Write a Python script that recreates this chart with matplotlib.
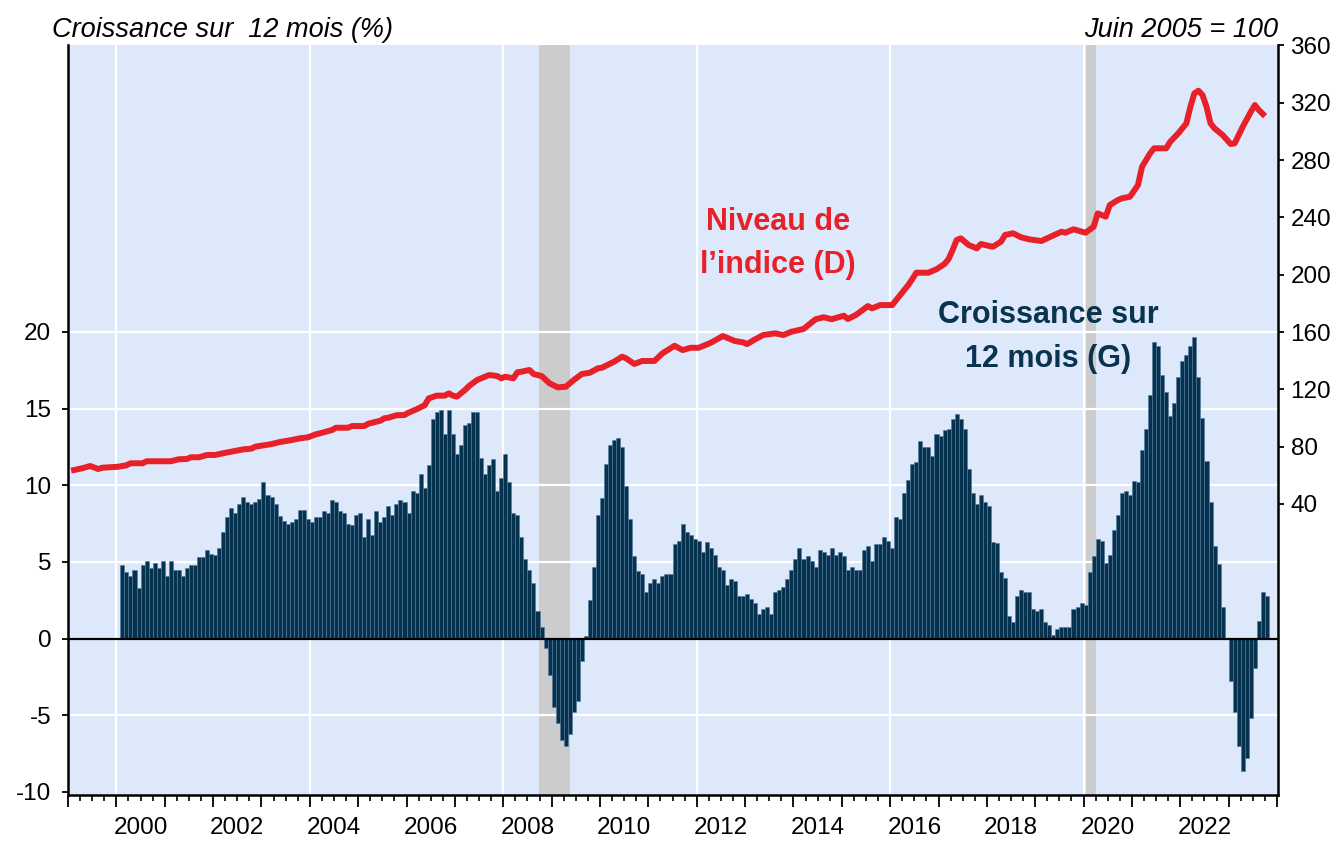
import matplotlib
matplotlib.use('Agg')
import matplotlib.pyplot as plt
import pandas as pd
from matplotlib.ticker import FixedLocator, FuncFormatter

plt.rcParams['font.family'] = ['Liberation Sans', 'DejaVu Sans']
plt.rcParams['axes.unicode_minus'] = False

# croissance sur 12 mois (%), mensuel, a partir de fevrier 2000
growth_start = '2000-02'
growth = [
    4.78, 4.35, 4.07, 4.48, 3.3, 4.78, 5.04, 4.63, 4.91, 4.63, 5.04, 4.07,
    5.04, 4.5, 4.5, 4.07, 4.61, 4.78, 4.78, 5.35, 5.35, 5.76, 5.52, 5.48,
    5.91, 6.93, 7.93, 8.5, 8.2, 8.78, 9.22, 8.93, 8.78, 8.93, 9.09, 10.22,
    9.37, 9.22, 8.78, 8.02, 7.65, 7.5, 7.63, 7.78, 8.37, 8.37, 7.78, 7.63,
    7.93, 7.91, 8.35, 8.22, 9.07, 8.91, 8.35, 8.22, 7.48, 7.43, 8.07, 8.2,
    6.63, 7.78, 6.78, 8.35, 7.63, 7.91, 8.63, 8.07, 8.78, 9.07, 8.91, 8.22,
    9.63, 9.5, 10.76, 9.83, 11.35, 14.35, 14.8, 14.93, 13.35, 14.93, 13.35, 12.07,
    12.63, 13.91, 14.07, 14.8, 14.8, 11.8, 10.76, 11.35, 11.72, 9.63, 10.5, 12.07,
    10.22, 8.2, 8.07, 6.63, 5.2, 4.5, 3.63, 1.78, 0.74, -0.63, -2.35, -4.46,
    -5.5, -6.63, -6.98, -6.2, -4.78, -4.04, -1.48, 0.15, 2.5, 4.65, 8.07, 9.2,
    11.37, 12.65, 12.93, 13.1, 12.5, 9.93, 7.8, 5.37, 4.4, 4.2, 3.04, 3.63,
    3.9, 3.63, 4.07, 4.2, 4.2, 6.2, 6.35, 7.48, 6.93, 6.78, 6.52, 6.35,
    5.65, 6.28, 5.93, 5.48, 4.65, 4.5, 3.48, 3.9, 3.76, 2.76, 2.76, 2.9,
    2.59, 2.33, 1.63, 1.9, 2.04, 1.63, 3.04, 3.2, 3.35, 3.9, 4.46, 5.2,
    5.9, 5.2, 5.37, 5.07, 4.65, 5.76, 5.65, 5.48, 5.93, 5.48, 5.65, 5.37,
    4.5, 4.7, 4.5, 4.5, 5.76, 6.07, 5.07, 6.2, 6.2, 6.63, 6.35, 5.93,
    7.93, 7.8, 9.5, 10.37, 11.37, 11.5, 12.87, 12.5, 12.5, 11.93, 13.37, 13.24,
    13.63, 13.67, 14.35, 14.63, 14.35, 13.67, 11.07, 9.5, 8.8, 9.35, 8.9, 8.63,
    6.28, 6.24, 4.35, 3.93, 1.5, 1.07, 2.76, 3.2, 3.04, 3.04, 1.93, 1.78,
    1.93, 1.07, 0.91, 0.22, 0.63, 0.78, 0.74, 0.78, 1.93, 2.07, 2.33, 2.2,
    4.35, 5.37, 6.5, 6.35, 4.93, 5.48, 7.07, 8.09, 9.5, 9.65, 9.39, 10.3,
    10.2, 12.33, 13.67, 15.9, 19.37, 19.07, 17.2, 16.07, 14.5, 15.37, 17.07, 18.09,
    18.52, 19.07, 19.65, 17.07, 14.37, 11.57, 8.9, 6.02, 4.89, 2.07, 0.0, -2.74,
    -4.8, -7.02, -8.65, -7.78, -5.17, -1.91, 1.17, 3.02, 2.76,
]

# niveau de l'indice (juin 2005 = 100)
index_months = [
    '1999-02', '1999-04', '1999-06', '1999-08', '1999-09', '2000-01', '2000-03', '2000-04',
    '2000-07', '2000-08', '2001-02', '2001-04', '2001-06', '2001-07', '2001-09', '2001-11',
    '2002-01', '2002-03', '2002-06', '2002-08', '2002-10', '2002-11', '2003-03', '2003-05',
    '2003-08', '2003-10', '2003-12', '2004-02', '2004-03', '2004-06', '2004-07', '2004-10',
    '2004-11', '2005-02', '2005-03', '2005-06', '2005-07', '2005-08', '2005-10', '2005-12',
    '2006-01', '2006-03', '2006-05', '2006-06', '2006-08', '2006-10', '2006-11', '2006-12',
    '2007-01', '2007-03', '2007-04', '2007-06', '2007-08', '2007-09', '2007-11', '2007-12',
    '2008-01', '2008-03', '2008-04', '2008-05', '2008-07', '2008-08', '2008-10', '2008-12',
    '2009-02', '2009-04', '2009-06', '2009-08', '2009-10', '2009-12', '2010-01', '2010-04',
    '2010-06', '2010-07', '2010-09', '2010-11', '2011-02', '2011-04', '2011-07', '2011-09',
    '2011-11', '2012-01', '2012-04', '2012-07', '2012-10', '2012-12', '2013-01', '2013-03',
    '2013-05', '2013-08', '2013-10', '2013-12', '2014-03', '2014-04', '2014-06', '2014-08',
    '2014-10', '2015-01', '2015-02', '2015-04', '2015-07', '2015-08', '2015-10', '2016-01',
    '2016-02', '2016-03', '2016-05', '2016-06', '2016-07', '2016-10', '2016-12', '2017-02',
    '2017-03', '2017-04', '2017-05', '2017-06', '2017-08', '2017-10', '2017-11', '2018-02',
    '2018-04', '2018-05', '2018-07', '2018-09', '2018-11', '2019-02', '2019-04', '2019-07',
    '2019-08', '2019-10', '2020-01', '2020-03', '2020-04', '2020-06', '2020-07', '2020-09',
    '2020-10', '2020-12', '2021-02', '2021-03', '2021-05', '2021-06', '2021-09', '2021-10',
    '2021-12', '2022-02', '2022-03', '2022-04', '2022-05', '2022-06', '2022-07', '2022-08',
    '2022-09', '2022-11', '2023-01', '2023-02', '2023-04', '2023-06', '2023-07', '2023-08',
    '2023-09',
]
index_level = [
    63.7, 64.9, 66.5, 64.4, 65.3, 66.0, 67.0, 68.4,
    68.4, 69.8, 69.8, 71.2, 71.4, 72.6, 72.6, 74.2,
    74.2, 75.4, 77.0, 78.1, 78.6, 80.0, 81.8, 83.2,
    84.6, 85.8, 86.5, 88.6, 89.3, 91.6, 93.2, 93.2,
    94.4, 94.4, 96.0, 98.1, 99.8, 100.2, 101.9, 102.1,
    103.7, 106.1, 108.9, 113.7, 115.6, 115.6, 117.2, 115.6,
    114.9, 119.5, 122.3, 126.5, 128.8, 130.0, 129.3, 127.7,
    128.8, 127.7, 131.9, 132.3, 133.5, 130.7, 129.3, 124.2,
    121.4, 121.8, 126.5, 130.7, 131.6, 134.7, 135.1, 139.3,
    142.8, 141.6, 137.7, 139.8, 139.8, 145.1, 150.4, 147.4,
    149.0, 149.0, 152.5, 157.2, 153.7, 152.8, 151.6, 154.9,
    157.9, 159.1, 157.9, 160.2, 162.1, 164.4, 168.9, 170.3,
    168.9, 171.4, 169.1, 171.9, 178.1, 176.5, 178.8, 178.8,
    182.3, 185.8, 192.8, 197.0, 201.4, 201.4, 203.8, 207.5,
    210.9, 217.2, 224.2, 225.4, 220.7, 218.4, 221.4, 219.5,
    223.0, 227.7, 228.9, 226.1, 224.7, 223.5, 226.1, 230.0,
    229.3, 231.7, 229.3, 233.5, 242.8, 240.5, 248.6, 252.1,
    253.3, 254.4, 262.6, 275.3, 284.7, 288.2, 288.2, 292.8,
    298.7, 305.6, 317.2, 326.6, 328.4, 325.4, 317.2, 305.6,
    302.1, 297.5, 291.2, 291.7, 303.3, 313.7, 318.4, 314.9,
    312.1,
]

# periodes de recession (annees decimales)
recessions = [(2008.74, 2009.38), (2020.045, 2020.25)]

navy = '#04324f'
red = '#e8202a'

months = pd.period_range(growth_start, periods=len(growth), freq='M')
bar_x = months.year + (months.month - 1) / 12
lm = pd.PeriodIndex(index_months, freq='M')
line_x = lm.year + (lm.month - 0.5) / 12

fig = plt.figure(figsize=(13.39, 8.41), dpi=100)
ax = fig.add_axes([68 / 1339, 46 / 841, 1210 / 1339, 750 / 841])
ax.set_facecolor('#dde9fb')
ax.set_xlim(1999.0, 2024.02)
ax.set_ylim(-10.2, 38.72)

for a, b in recessions:
    ax.axvspan(a, b, color='#cccccc', lw=0, zorder=0.5)
for y in [-5, 5, 10, 15, 20]:
    ax.axhline(y, color='white', lw=1.6, zorder=1)
for yr in range(2000, 2024, 4):
    ax.axvline(yr, color='white', lw=1.6, zorder=1)

ax.bar(bar_x, growth, width=1 / 12, align='edge', color=navy,
       edgecolor='#55799a', linewidth=0.4, zorder=2)
ax.axhline(0, color='black', lw=1.6, zorder=3)

ax2 = ax.twinx()
ax2.set_ylim(-163.1, 360.3)
ax2.plot(line_x, index_level, color=red, lw=4.3, solid_joinstyle='round', zorder=4)

for s in ['top', 'right']:
    ax.spines[s].set_visible(False)
for s in ['top', 'left', 'bottom']:
    ax2.spines[s].set_visible(False)
for sp in [ax.spines['left'], ax.spines['bottom'], ax2.spines['right']]:
    sp.set_linewidth(1.8)

# axe des x : traits annuels, trimestriels, etiquettes au milieu des annees paires
ax.set_xticks(range(1999, 2025))
ax.set_xticklabels([])
ax.xaxis.set_minor_locator(FixedLocator([y + q / 4 for y in range(1999, 2024) for q in (1, 2, 3)]))
ax.xaxis.set_minor_formatter(FuncFormatter(
    lambda v, p: str(int(v)) if abs(v - int(v) - 0.5) < 1e-6 and int(v) % 2 == 0 else ''))
ax.tick_params(axis='x', which='major', length=8.5, width=1.3)
ax.tick_params(axis='x', which='minor', length=4.5, width=1.2, labelsize=17.5, pad=11)

ax.set_yticks(range(-10, 25, 5))
ax.tick_params(axis='y', length=4, width=1.3, labelsize=17.5, pad=8)
ax2.set_yticks(range(40, 361, 40))
ax2.tick_params(axis='y', length=4, width=1.3, labelsize=17.5, pad=5)

fig.text(52 / 1339, 1 - 37 / 841, 'Croissance sur  12 mois (%)', style='italic',
         fontsize=19.5, ha='left', va='baseline')
fig.text(1278 / 1339, 1 - 37 / 841, 'Juin 2005 = 100', style='italic',
         fontsize=19.5, ha='right', va='baseline')

ax2.text(2013.68, 221.8, 'Niveau de\nl\u2019indice (D)', color=red, fontsize=22,
         fontweight='bold', ha='center', va='center', linespacing=1.55, zorder=5)
ax.text(2019.27, 19.66, 'Croissance sur\n12 mois (G)', color='#0a3350', fontsize=22,
        fontweight='bold', ha='center', va='center', linespacing=1.6, zorder=5)

fig.savefig('out.png', dpi=100)
